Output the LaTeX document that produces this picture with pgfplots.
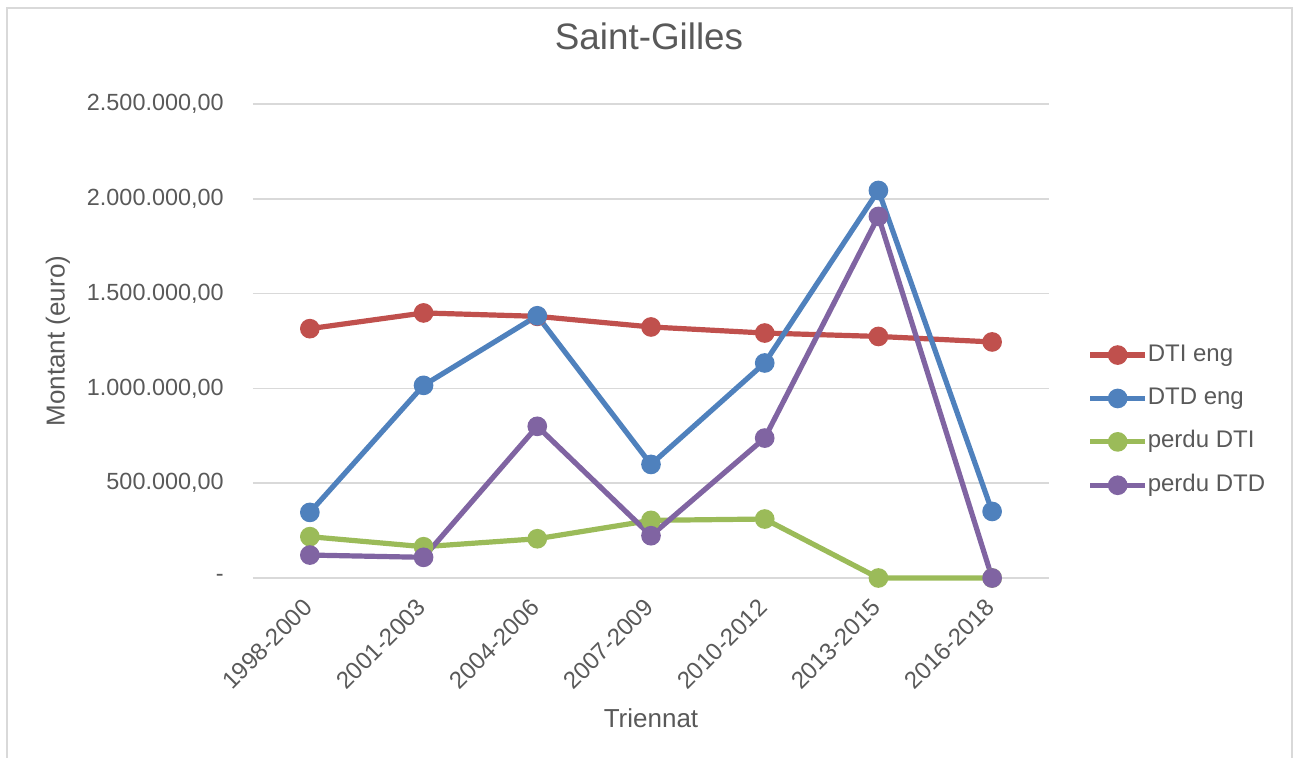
\documentclass[border=0pt]{standalone}
\usepackage{pgfplots}
\pgfplotsset{compat=1.18}
\usepackage{fontspec}
\setmainfont{Liberation Sans}

\definecolor{dtieng}{HTML}{C0504D}
\definecolor{dtdeng}{HTML}{4F81BD}
\definecolor{perdudti}{HTML}{9BBB59}
\definecolor{perdudtd}{HTML}{8064A2}
\definecolor{txtgray}{HTML}{595959}
\definecolor{gridgray}{HTML}{D9D9D9}

% 1 px of the reference = 0.5pt
\begin{document}
\begin{tikzpicture}
\path (0pt,0pt) rectangle (647.5pt,379pt);
\draw[gridgray, line width=1pt] (3.5pt,0pt) -- (3.5pt,374.8pt) -- (646pt,374.8pt) -- (646pt,0pt);
\begin{axis}[
    at={(126.5pt,90pt)}, anchor=south west,
    scale only axis,
    width=398pt, height=237pt,
    xmin=-0.5, xmax=6.5,
    ymin=0, ymax=2500000,
    scaled y ticks=false,
    clip=false,
    axis line style={draw=none},
    major tick length=0pt,
    ymajorgrids,
    grid style={gridgray, line width=0.75pt},
    xtick={0,...,6},
    xticklabels={1998-2000,2001-2003,2004-2006,2007-2009,2010-2012,2013-2015,2016-2018},
    ytick={0,500000,1000000,1500000,2000000,2500000},
    yticklabels={{-\hspace{6pt}},{500.000,00},{1.000.000,00},{1.500.000,00},{2.000.000,00},{2.500.000,00}},
    yticklabel style={font=\fontsize{11.7}{13}\selectfont, text=txtgray, inner sep=0pt, anchor=east, xshift=-14.5pt},
    xticklabel style={font=\fontsize{12}{14}\selectfont, text=txtgray, inner sep=0pt, xshift=-4pt, yshift=-9.5pt, rotate=45, anchor=north east},
    title={Saint-Gilles},
    title style={font=\fontsize{18.4}{21}\selectfont, text=txtgray, at={(axis description cs:0.4975,1.117)}, anchor=center, inner sep=0pt},
    xlabel={Triennat},
    xlabel style={font=\fontsize{13}{15}\selectfont, text=txtgray, at={(axis description cs:0.5,-0.2954)}, anchor=center, inner sep=0pt},
    ylabel={Montant (euro)},
    ylabel style={font=\fontsize{13}{15}\selectfont, text=txtgray, at={(axis description cs:-0.245,0.5)}, anchor=center, inner sep=0pt},
    legend style={at={(axis description cs:1.048,0.333)}, anchor=west, draw=none, fill=none,
        inner sep=0pt, row sep=10.7pt,
        font=\fontsize{12}{14}\selectfont, text=txtgray,
        nodes={inner sep=0pt, text height=8.5pt, text depth=2.5pt},
        /tikz/every even column/.append style={column sep=2pt}},
    legend cell align=left,
    legend image code/.code={
        \draw[mark repeat=2, mark phase=2, #1] plot coordinates {(0pt,0pt) (13.75pt,0pt) (27.5pt,0pt)};
    },
    every axis plot/.append style={line width=2.6pt, mark=*, mark size=3.6pt},
]
\addplot[dtieng, mark options={fill=dtieng, draw=dtieng}] coordinates {
    (0,1315000) (1,1398000) (2,1380000) (3,1324000) (4,1292000) (5,1274000) (6,1245000)
};
\addplot[dtdeng, mark options={fill=dtdeng, draw=dtdeng}] coordinates {
    (0,346000) (1,1016000) (2,1383000) (3,599000) (4,1134000) (5,2044000) (6,351000)
};
\addplot[perdudti, mark options={fill=perdudti, draw=perdudti}] coordinates {
    (0,218000) (1,165000) (2,207000) (3,304000) (4,311000) (5,0) (6,0)
};
\addplot[perdudtd, mark options={fill=perdudtd, draw=perdudtd}] coordinates {
    (0,121000) (1,109000) (2,800000) (3,223000) (4,738000) (5,1907000) (6,0)
};
\legend{DTI eng, DTD eng, perdu DTI, perdu DTD}
\end{axis}
\end{tikzpicture}
\end{document}
